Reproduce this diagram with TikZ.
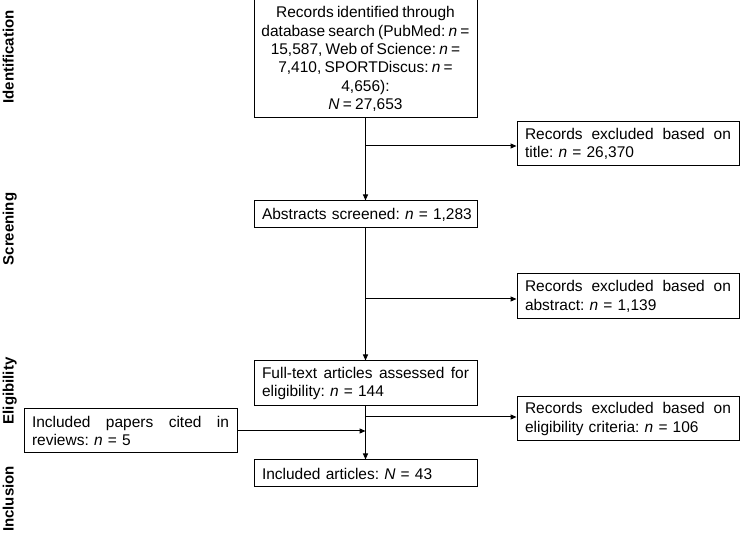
\documentclass[tikz,border=0pt]{standalone}
\usepackage{fontspec}
\setmainfont[WordSpace=0.75]{Liberation Sans}
\usetikzlibrary{arrows.meta}
\newcommand\spreadln[2]{\hbox to #1{#2}}
\frenchspacing
\begin{document}
\begin{tikzpicture}[x=1pt,y=-1pt,
  every node/.style={font=\frenchspacing\fontsize{15.5}{18.4}\selectfont},
  box/.style={draw=black, line width=1pt, inner sep=0pt, anchor=center, align=left},
  phase/.style={rotate=90, anchor=base, font=\bfseries\fontsize{15}{18}\selectfont},
  conn/.style={line width=1pt},
  arr/.style={conn, -{Triangle[length=6pt,width=5pt]}}]
\useasboundingbox (0,0) rectangle (740,537);
% phase labels
\node[phase] (pid) at (13.5,57) {Identification};
\node[phase] (psc) at (13.5,229) {Screening};
\node[phase] (pel) at (13.5,391) {Eligibility};
\node[phase] (pin) at (13.5,499) {Inclusion};
% main column
\node[box, minimum width=223pt, minimum height=118pt, align=center] (rec) at (365.5,59)
  {Records identified through\\database search (PubMed: \textit{n} =\\15,587, Web of Science: \textit{n} =\\7,410, SPORTDiscus: \textit{n} =\\4,656):\\\textit{N} = 27,653};
\node[box, minimum width=223pt, minimum height=27pt, text width=207pt] (abs) at (365.5,214.5)
  {\mbox{Abstracts screened: \textit{n} = 1,283}};
\node[box, minimum width=223pt, minimum height=45pt, text width=207pt] (ft) at (365.5,383.5)
  {\spreadln{207pt}{Full-text\hfill articles\hfill assessed\hfill for}\\eligibility: \textit{n} = 144};
\node[box, minimum width=223pt, minimum height=27pt, text width=207pt] (inc) at (365.5,473.5)
  {Included articles: \textit{N} = 43};
% right column
\node[box, minimum width=222pt, minimum height=44pt, text width=206pt] (ex1) at (628,144)
  {\spreadln{206pt}{Records\hfill excluded\hfill based\hfill on}\\title: \textit{n} = 26,370};
\node[box, minimum width=222pt, minimum height=45pt, text width=206pt] (ex2) at (628,296.5)
  {\spreadln{206pt}{Records\hfill excluded\hfill based\hfill on}\\abstract: \textit{n} = 1,139};
\node[box, minimum width=222pt, minimum height=44pt, text width=206pt] (ex3) at (628,419)
  {\spreadln{206pt}{Records\hfill excluded\hfill based\hfill on}\\eligibility criteria: \textit{n} = 106};
% left box
\node[box, minimum width=213pt, minimum height=44pt, text width=197pt] (cit) at (130.5,431)
  {\spreadln{197pt}{Included\hfill papers\hfill cited\hfill in}\\reviews: \textit{n} = 5};
% connectors
\coordinate (b1) at (365.5,146);
\coordinate (b2) at (365.5,299);
\coordinate (b3) at (365.5,417);
\draw[arr] (rec.south) -- (abs.north);
\draw[arr] (b1) -- (b1 -| ex1.west);
\draw[arr] (abs.south) -- (ft.north);
\draw[arr] (b2) -- (b2 -| ex2.west);
\draw[arr] (ft.south) -- (inc.north);
\draw[arr] (b3) -- (b3 -| ex3.west);
\draw[arr] (cit.east) -- (cit.east -| inc.north);
\end{tikzpicture}
\end{document}
